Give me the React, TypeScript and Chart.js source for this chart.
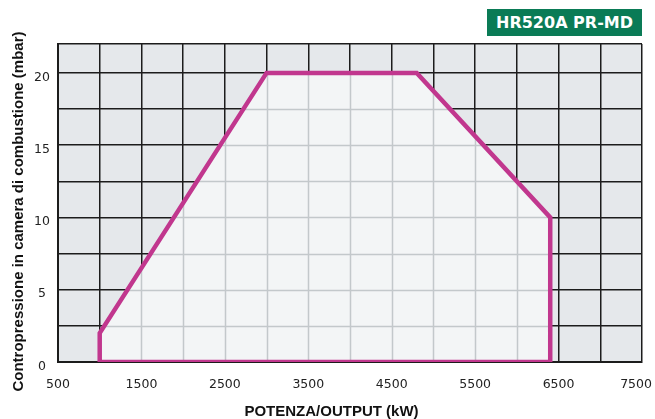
import React, { useEffect, useRef } from 'react';
import { Chart, registerables } from 'chart.js';

Chart.register(...registerables);

// ---- data ----
const outputKW = [1000, 1000, 3000, 4800, 6400, 6400, 1000];
const pressureMbar = [0, 2, 20, 20, 10, 0, 0];
const xTickLabels = ['500', '1500', '2500', '3500', '4500', '5500', '6500', '7500'];
const yTickLabels = ['0', '5', '10', '15', '20'];
const badgeText = 'HR520A PR-MD';
const xTitle = 'POTENZA/OUTPUT (kW)';
const yTitle = 'Contropressione in camera di combustione (mbar)';

const OUTER_BG = '#e5e8eb';
const INNER_BG = '#f3f5f6';
const DARK_GRID = '#1c1c1c';
const LIGHT_GRID = '#c3c8cb';
const MAGENTA = '#c1378e';

const areaPlugin = {
  id: 'areaPlugin',
  beforeDraw(chart: any) {
    const { ctx, chartArea } = chart;
    ctx.save();
    ctx.fillStyle = OUTER_BG;
    ctx.fillRect(chartArea.left, chartArea.top, chartArea.right - chartArea.left, chartArea.bottom - chartArea.top);
    ctx.restore();
  },
  beforeDatasetsDraw(chart: any) {
    const { ctx, chartArea } = chart;
    const xs = chart.scales.x;
    const ys = chart.scales.y;
    ctx.save();
    ctx.beginPath();
    outputKW.forEach((v, i) => {
      const px = xs.getPixelForValue(v);
      const py = ys.getPixelForValue(pressureMbar[i]);
      if (i === 0) ctx.moveTo(px, py);
      else ctx.lineTo(px, py);
    });
    ctx.closePath();
    ctx.fillStyle = INNER_BG;
    ctx.fill();
    ctx.clip();
    ctx.strokeStyle = LIGHT_GRID;
    ctx.lineWidth = 1.5;
    xs.ticks.forEach((t: any) => {
      const px = Math.round(xs.getPixelForValue(t.value)) + 0.5;
      ctx.beginPath();
      ctx.moveTo(px, chartArea.top);
      ctx.lineTo(px, chartArea.bottom);
      ctx.stroke();
    });
    ys.ticks.forEach((t: any) => {
      const py = Math.round(ys.getPixelForValue(t.value)) + 0.5;
      ctx.beginPath();
      ctx.moveTo(chartArea.left, py);
      ctx.lineTo(chartArea.right, py);
      ctx.stroke();
    });
    ctx.restore();
  },
  afterDraw(chart: any) {
    const { ctx } = chart;
    ctx.save();
    ctx.fillStyle = '#111';
    ctx.font = 'bold 15px "Liberation Sans", Arial, sans-serif';
    ctx.textAlign = 'center';
    ctx.textBaseline = 'middle';
    ctx.fillText(xTitle, 331.5, 411.5);
    ctx.translate(19, 211.5);
    ctx.rotate(-Math.PI / 2);
    ctx.fillText(yTitle, 0, 0);
    ctx.restore();
  },
};

export default function App() {
  const canvasRef = useRef<HTMLCanvasElement | null>(null);

  useEffect(() => {
    if (!canvasRef.current) return;
    const lastX = xTickLabels[xTickLabels.length - 1];
    const chart = new Chart(canvasRef.current, {
      type: 'line',
      data: {
        datasets: [
          {
            data: outputKW.map((x, i) => ({ x, y: pressureMbar[i] })),
            borderColor: MAGENTA,
            borderWidth: 4.5,
            borderJoinStyle: 'miter',
            borderCapStyle: 'square',
            fill: false,
            pointRadius: 0,
            tension: 0,
          },
        ],
      },
      options: {
        animation: false,
        responsive: false,
        maintainAspectRatio: false,
        layout: { padding: { left: 0, right: 13, top: 44, bottom: 0 } },
        plugins: {
          legend: { display: false },
          tooltip: { enabled: false },
          title: { display: false },
        },
        scales: {
          x: {
            type: 'linear',
            min: 500,
            max: 7500,
            afterFit: (s: any) => {
              s.height = 57;
              s.paddingLeft = 0;
              s.paddingRight = 0;
            },
            ticks: {
              stepSize: 500,
              autoSkip: false,
              maxRotation: 0,
              minRotation: 0,
              padding: 15,
              color: '#222',
              font: { family: '"DejaVu Sans", sans-serif', size: 12.5 },
              callback: (v: any) => {
                const s = String(v);
                if (!xTickLabels.includes(s)) return '';
                // keep the last label inside the canvas, as in the reference
                return s === lastX ? s + '   ' : s;
              },
            },
            grid: { color: DARK_GRID, lineWidth: 1.5, drawTicks: false },
            border: { display: true, color: DARK_GRID, width: 2 },
          },
          y: {
            type: 'linear',
            min: 0,
            max: 22,
            afterFit: (s: any) => {
              s.width = 58;
            },
            ticks: {
              stepSize: 2.5,
              autoSkip: false,
              padding: 8,
              crossAlign: 'center',
              color: '#222',
              font: { family: '"DejaVu Sans", sans-serif', size: 12.5, lineHeight: '9px' },
              callback: (v: any) => {
                const s = String(v);
                return yTickLabels.includes(s) ? ['', s] : '';
              },
            },
            grid: { color: DARK_GRID, lineWidth: 1.5, drawTicks: false },
            border: { display: true, color: DARK_GRID, width: 2 },
          },
        },
      } as any,
      plugins: [areaPlugin],
    });
    return () => chart.destroy();
  }, []);

  return (
    <div style={{ position: 'fixed', left: 0, top: 0, width: 655, height: 419, background: '#fff' }}>
      <canvas ref={canvasRef} width={655} height={419} style={{ display: 'block', width: 655, height: 419 }} />
      <div
        style={{
          position: 'absolute',
          left: 487,
          top: 9,
          width: 155,
          height: 27,
          background: '#0a7b56',
          color: '#fff',
          fontFamily: '"DejaVu Sans", sans-serif',
          fontWeight: 'bold',
          fontSize: 16,
          lineHeight: '27px',
          textAlign: 'center',
          whiteSpace: 'nowrap',
        }}
      >
        {badgeText}
      </div>
    </div>
  );
}
